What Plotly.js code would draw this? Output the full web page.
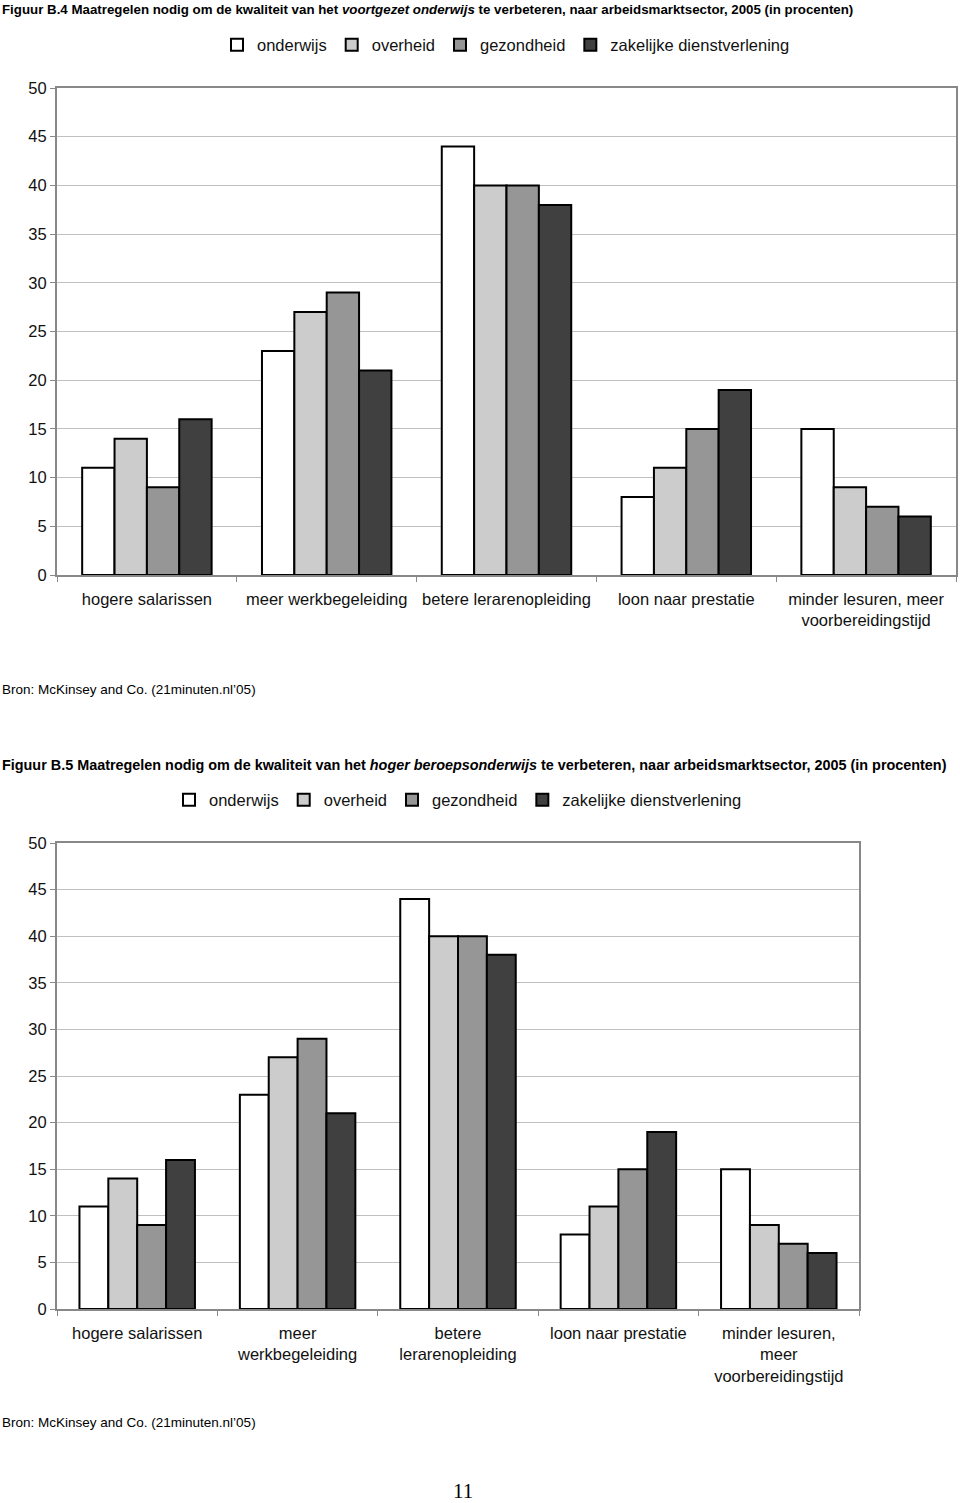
<!DOCTYPE html>
<html>
<head>
<meta charset="utf-8">
<script src="https://cdn.plot.ly/plotly-3.0.1.min.js"></script>
<style>
html,body{margin:0;padding:0;background:#fff;}
#chart{width:960px;height:1503px;}
</style>
</head>
<body>
<div id="chart"></div>
<script>
// ---- data ----
const categories = ["hogere salarissen","meer werkbegeleiding","betere lerarenopleiding","loon naar prestatie","minder lesuren, meer voorbereidingstijd"];
const tickLabels1 = ["hogere salarissen","meer werkbegeleiding","betere lerarenopleiding","loon naar prestatie","minder lesuren, meer<br>voorbereidingstijd"];
const tickLabels2 = ["hogere salarissen","meer<br>werkbegeleiding","betere<br>lerarenopleiding","loon naar prestatie","minder lesuren,<br>meer<br>voorbereidingstijd"];
const seriesNames = ["onderwijs","overheid","gezondheid","zakelijke dienstverlening"];
// Figuur B.4 (voortgezet onderwijs)
const vo_onderwijs   = [11, 23, 44, 8, 15];
const vo_overheid    = [14, 27, 40, 11, 9];
const vo_gezondheid  = [9, 29, 40, 15, 7];
const vo_zakelijk    = [16, 21, 38, 19, 6];
// Figuur B.5 (hoger beroepsonderwijs)
const hbo_onderwijs  = [11, 23, 44, 8, 15];
const hbo_overheid   = [14, 27, 40, 11, 9];
const hbo_gezondheid = [9, 29, 40, 15, 7];
const hbo_zakelijk   = [16, 21, 38, 19, 6];
const yTicks = [0,5,10,15,20,25,30,35,40,45,50];

const colors = ["#ffffff","#cccccc","#969696","#404040"];
const H = 1503, W = 960;
const sans = "Liberation Sans, Arial, sans-serif";

const set1 = [vo_onderwijs, vo_overheid, vo_gezondheid, vo_zakelijk];
const set2 = [hbo_onderwijs, hbo_overheid, hbo_gezondheid, hbo_zakelijk];
const traces = [];
set1.forEach((vals,i)=>traces.push({
  type:"bar", x:categories, y:vals, name:seriesNames[i], xaxis:"x", yaxis:"y", legend:"legend",
  marker:{color:colors[i], line:{color:"#000", width:2}}, hoverinfo:"y"
}));
set2.forEach((vals,i)=>traces.push({
  type:"bar", x:categories, y:vals, name:seriesNames[i], xaxis:"x2", yaxis:"y2", legend:"legend2",
  marker:{color:colors[i], line:{color:"#000", width:2}}, hoverinfo:"y"
}));

function py(pix){ return 1 - pix/H; }

const yaxisBase = {
  range:[0,50], tickvals:yTicks, ticks:"outside", ticklen:5, tickcolor:"#888",
  showline:true, linecolor:"#888", linewidth:2, mirror:true,
  showgrid:true, gridcolor:"#c0c0c0", gridwidth:1, zeroline:false,
  tickfont:{family:sans, size:16.5, color:"#111"}, fixedrange:true
};
const xaxisBase = {
  type:"category", tickmode:"array", tickvals:categories,
  ticks:"outside", ticklen:5, tickcolor:"#888", tickson:"boundaries",
  showline:true, linecolor:"#888", linewidth:2, mirror:true, showgrid:false,
  tickfont:{family:sans, size:16.5, color:"#111"}, tickangle:0, ticklabelstandoff:8, fixedrange:true
};

const layout = {
  width:W, height:H, margin:{l:0,r:0,t:0,b:0},
  paper_bgcolor:"#fff", plot_bgcolor:"#fff",
  barmode:"group", bargap:0.28, bargroupgap:0,
  showlegend:true,
  xaxis: Object.assign({}, xaxisBase, {domain:[57/W, 956/W], anchor:"y", ticktext:tickLabels1}),
  yaxis: Object.assign({}, yaxisBase, {domain:[py(575), py(88)], anchor:"x"}),
  xaxis2: Object.assign({}, xaxisBase, {domain:[57/W, 859/W], anchor:"y2", ticktext:tickLabels2}),
  yaxis2: Object.assign({}, yaxisBase, {domain:[py(1309), py(843)], anchor:"x2"}),
  legend:{orientation:"h", x:506/W, xanchor:"center", y:py(45), yanchor:"middle",
    font:{family:sans, size:16.5, color:"#111"}, itemwidth:30, bgcolor:"rgba(0,0,0,0)", traceorder:"normal"},
  legend2:{orientation:"h", x:458/W, xanchor:"center", y:py(800), yanchor:"middle",
    font:{family:sans, size:16.5, color:"#111"}, itemwidth:30, bgcolor:"rgba(0,0,0,0)", traceorder:"normal"},
  annotations:[
    {xref:"paper", yref:"paper", x:0, y:py(10), xanchor:"left", yanchor:"middle", showarrow:false,
     text:"<b>Figuur B.4 Maatregelen nodig om de kwaliteit van het <i>voortgezet onderwijs</i> te verbeteren, naar arbeidsmarktsector, 2005 (in procenten)</b>",
     font:{family:sans, size:13.3, color:"#000"}},
    {xref:"paper", yref:"paper", x:0, y:py(689), xanchor:"left", yanchor:"middle", showarrow:false,
     text:"Bron: McKinsey and Co. (21minuten.nl’05)", font:{family:sans, size:13.5, color:"#000"}},
    {xref:"paper", yref:"paper", x:0, y:py(765), xanchor:"left", yanchor:"middle", showarrow:false,
     text:"<b>Figuur B.5 Maatregelen nodig om de kwaliteit van het <i>hoger beroepsonderwijs</i> te verbeteren, naar arbeidsmarktsector, 2005 (in procenten)</b>",
     font:{family:sans, size:14.4, color:"#000"}},
    {xref:"paper", yref:"paper", x:0, y:py(1422), xanchor:"left", yanchor:"middle", showarrow:false,
     text:"Bron: McKinsey and Co. (21minuten.nl’05)", font:{family:sans, size:13.5, color:"#000"}},
    {xref:"paper", yref:"paper", x:463/W, y:py(1491), xanchor:"center", yanchor:"middle", showarrow:false,
     text:"11", font:{family:"Liberation Serif, DejaVu Serif, serif", size:21, color:"#000"}}
  ]
};

Plotly.newPlot("chart", traces, layout, {displayModeBar:false, staticPlot:true});
</script>
</body>
</html>
